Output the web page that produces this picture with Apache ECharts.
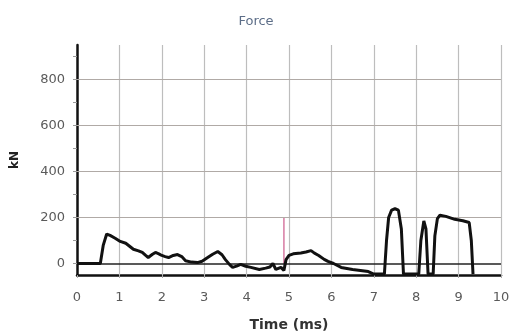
<!DOCTYPE html>
<html>
<head>
<meta charset="utf-8">
<script src="https://cdn.jsdelivr.net/npm/echarts@6/dist/echarts.min.js"></script>
<style>
  html, body { margin: 0; padding: 0; background: #fff; }
  #chart { width: 510px; height: 336px; }
</style>
</head>
<body>
<div id="chart"></div>
<script>
// force trace (time in ms, force in kN)
const timeMs = [0, 0.55, 0.62, 0.7, 0.78, 0.9, 1.02, 1.15, 1.33, 1.45, 1.54, 1.62, 1.68, 1.78, 1.85, 1.93,
  2.0, 2.08, 2.16, 2.27, 2.37, 2.47, 2.56, 2.7, 2.84, 2.95, 3.1, 3.2, 3.32, 3.42, 3.5, 3.6, 3.67, 3.78,
  3.86, 3.98, 4.1, 4.3, 4.45, 4.55, 4.62, 4.69, 4.81, 4.88, 4.93, 5.0, 5.1, 5.28, 5.4, 5.52, 5.6, 5.7,
  5.83, 5.92, 6.05, 6.23, 6.5, 6.87, 7.0, 7.25, 7.3, 7.35, 7.42, 7.5, 7.58, 7.65, 7.7, 8.06, 8.11, 8.18,
  8.23, 8.28, 8.4, 8.44, 8.5, 8.56, 8.7, 8.91, 9.1, 9.25, 9.3, 9.34];
const forceKN = [0, 0, 80, 128, 122, 110, 96, 88, 62, 55, 48, 35, 26, 40, 48, 42,
  35, 30, 26, 35, 39, 30, 12, 6, 4, 10, 28, 40, 52, 38, 17, -5, -17, -10,
  -4, -12, -17, -26, -20, -15, 0, -26, -17, -30, 17, 35, 42, 46, 50, 56, 45, 35,
  18, 9, 0, -17, -26, -35, -46, -46, 100, 200, 232, 238, 232, 150, -46, -46, 100, 185,
  150, -46, -46, 120, 195, 210, 205, 192, 186, 178, 100, -46];
// cursor marker
const cursorTime = [4.88, 4.88];
const cursorForce = [0, 200];
const yLabels = [0, 200, 400, 600, 800];
const yMinorTicks = [0, 100, 200, 300, 400, 500, 600, 700, 800, 900];
const xGrid = [1, 2, 3, 4, 5, 6, 7, 8, 9, 10];

const chart = echarts.init(document.getElementById('chart'));
const font = 'DejaVu Sans';

// grid lines drawn as mark lines
const hLines = yLabels.map(v => ({
  yAxis: v,
  lineStyle: v === 0 ? { color: '#222', width: 1.5, type: 'solid' } : { color: '#b0aaa6', width: 1.2, type: 'solid' }
}));
const vLines = xGrid.map(v => ({ xAxis: v, lineStyle: { color: '#bdbdbd', width: 1.2, type: 'solid' } }));

chart.setOption({
  animation: false,
  title: {
    text: 'Force',
    left: 251,
    top: 10,
    textAlign: 'center',
    textStyle: { fontFamily: font, fontSize: 13, fontWeight: 'normal', color: '#5d6e88' }
  },
  grid: { left: 77, right: 9, top: 45, bottom: 61, outerBoundsMode: 'none' },
  xAxis: {
    type: 'value',
    min: 0,
    max: 10,
    interval: 1,
    name: 'Time (ms)',
    nameLocation: 'middle',
    nameGap: 43,
    nameTextStyle: { fontFamily: font, fontSize: 14, fontWeight: 'bold', color: '#333' },
    axisLine: { onZero: false, lineStyle: { color: '#111', width: 2.5 } },
    axisTick: { show: true, length: 3, lineStyle: { color: '#aaa' } },
    axisLabel: { margin: 16, fontFamily: font, fontSize: 13, color: '#5a5a5a' },
    splitLine: { show: false }
  },
  yAxis: {
    type: 'value',
    min: -50,
    max: 950,
    name: 'kN',
    nameLocation: 'middle',
    nameGap: 56,
    nameTextStyle: { fontFamily: font, fontSize: 12, fontWeight: 'bold', color: '#222' },
    axisLine: { show: true, lineStyle: { color: '#111', width: 2.5 } },
    axisTick: { show: true, length: 4, customValues: yMinorTicks, lineStyle: { color: '#999' } },
    axisLabel: { margin: 12, fontFamily: font, fontSize: 13, color: '#5a5a5a', customValues: yLabels },
    splitLine: { show: false }
  },
  series: [
    {
      type: 'line',
      data: timeMs.map((t, i) => [t, forceKN[i]]),
      showSymbol: false,
      lineStyle: { color: '#111', width: 3 },
      z: 5,
      markLine: {
        silent: true,
        symbol: 'none',
        label: { show: false },
        data: vLines.concat(hLines)
      }
    },
    {
      type: 'line',
      data: cursorTime.map((t, i) => [t, cursorForce[i]]),
      showSymbol: false,
      lineStyle: { color: '#d77aa2', width: 1.5 },
      z: 4
    }
  ]
});
</script>
</body>
</html>
